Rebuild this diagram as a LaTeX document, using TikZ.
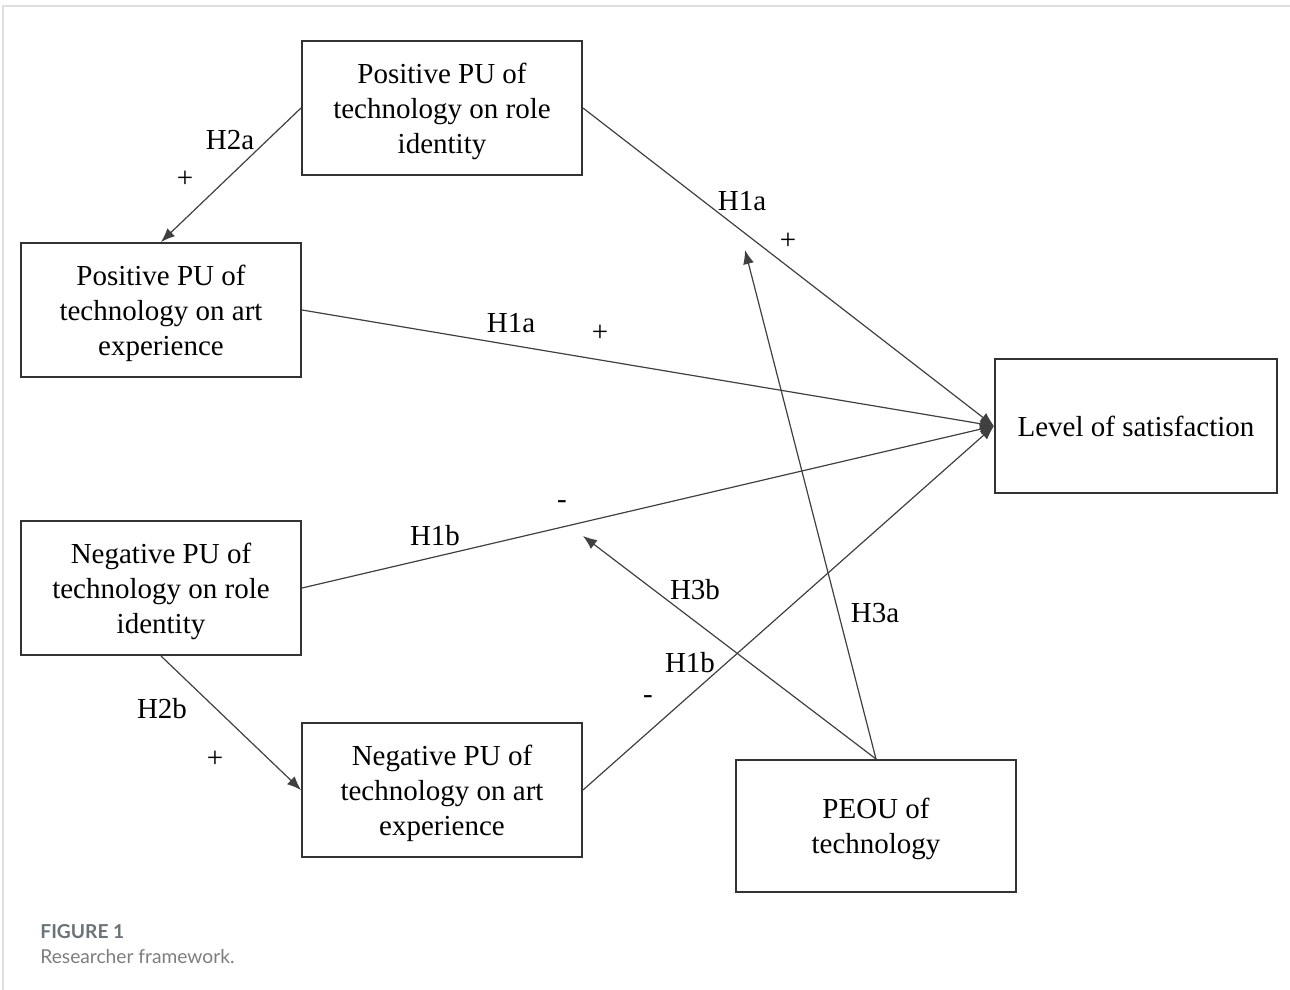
\documentclass[tikz,border=0pt]{standalone}
\usepackage{fontspec}
\setmainfont{Liberation Serif}
\newfontfamily\captionfont{Lato}
\usetikzlibrary{arrows.meta}
\definecolor{Caption Head}{RGB}{105,115,120}
\definecolor{Caption Text}{RGB}{125,125,125}
\tikzset{Concept Box/.style = {draw = black!80, line width = 1pt, minimum width = 140pt,
    minimum height = 67pt, align = center, inner sep = 2pt, text depth = -2pt,
    font = \fontsize{14.5}{17.5}\selectfont}}
\tikzset{Path Line/.style = {draw = black!75, line width = .6pt,
    -{Latex[length = 7pt, width = 5.5pt]}}}
\tikzset{Path Label/.style = {font = \fontsize{14.5}{17}\selectfont, inner sep = 0pt}}

\begin{document}
\begin{tikzpicture}[x = .5pt, y = -.5pt]
  \useasboundingbox (0, 0) rectangle (1290, 990);
  \draw[gray!25, line width = 1pt] (3, 990) -- (3, 6) -- (1290, 6);

  \node[Concept Box] (PR) at (442, 108) {Positive PU of\\technology on role\\identity};
  \node[Concept Box] (PA) at (161, 310) {Positive PU of\\technology on art\\experience};
  \node[Concept Box] (NR) at (161, 588) {Negative PU of\\technology on role\\identity};
  \node[Concept Box] (NA) at (442, 790) {Negative PU of\\technology on art\\experience};
  \node[Concept Box, minimum width = 141pt] (LS) at (1136, 426) {Level of satisfaction};
  \node[Concept Box, minimum height = 66pt] (PE) at (876, 826) {PEOU of\\technology};

  \coordinate (T3a) at (745, 250);
  \coordinate (T3b) at (583, 536);

  \draw[Path Line] (PR.west) -- (PA.north);
  \draw[Path Line] (NR.south) -- (NA.west);
  \draw[Path Line] (PR.east) -- (LS.west);
  \draw[Path Line] (PA.east) -- (LS.west);
  \draw[Path Line] (NR.east) -- (LS.west);
  \draw[Path Line] (NA.east) -- (LS.west);
  \draw[Path Line] (PE.north) -- (T3a);
  \draw[Path Line] (PE.north) -- (T3b);

  % hypothesis labels
  \node[Path Label] (L2a) at (230, 140) {H2a};
  \node[Path Label] (S2a) at (185, 179) {+};
  \node[Path Label] (L1a) at (742, 201) {H1a};
  \node[Path Label] (S1a) at (788, 241) {+};
  \node[Path Label] (L1c) at (511, 323) {H1a};
  \node[Path Label] (S1c) at (600, 333) {+};
  \node[Path Label] (S1b) at (562, 505) {-};
  \node[Path Label] (L1b) at (435, 536) {H1b};
  \node[Path Label] (L3b) at (695, 590) {H3b};
  \node[Path Label] (L3a) at (875, 613) {H3a};
  \node[Path Label] (L1d) at (690, 663) {H1b};
  \node[Path Label] (S1d) at (648, 700) {-};
  \node[Path Label] (L2b) at (162, 709) {H2b};
  \node[Path Label] (S2b) at (215, 759) {+};

  % caption
  \node[anchor = west, inner sep = 0pt, text = Caption Head,
    font = \captionfont\bfseries\fontsize{9.6}{11}\selectfont] (FG) at (40, 932) {FIGURE 1};
  \node[anchor = west, inner sep = 0pt, text = Caption Text,
    font = \captionfont\fontsize{9.6}{11}\selectfont] (CP) at (40, 956) {Researcher framework.};
\end{tikzpicture}
\end{document}
